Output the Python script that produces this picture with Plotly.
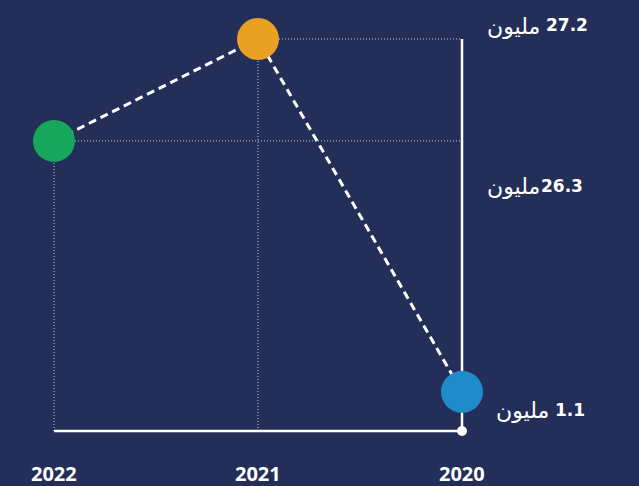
import plotly.graph_objects as go

# Data
years = [2022, 2021, 2020]
values = ["26.3", "27.2", "1.1"]          # million
unit = "مليون"
# Drawn heights of the points (0 = baseline, 100 = top of axis)
levels = [74, 100, 10]
colors = ["#16a65c", "#e9a124", "#1f8bcb"]

BG = "#232f59"
DOT = "rgba(220,224,236,0.85)"

fig = go.Figure()

x0 = years[-1]  # the right-hand axis year
top = max(levels)

# dotted guides: vertical from each point to baseline, horizontal to right axis
for yr, lv in zip(years, levels):
    fig.add_trace(go.Scatter(x=[yr, yr], y=[0, lv], mode="lines",
                             line=dict(color=DOT, width=1, dash="1px,2px"),
                             hoverinfo="skip", showlegend=False))
    if yr != x0:
        fig.add_trace(go.Scatter(x=[yr, x0], y=[lv, lv], mode="lines",
                                 line=dict(color=DOT, width=1, dash="1px,2px"),
                                 hoverinfo="skip", showlegend=False))

# solid axes: right vertical and baseline
fig.add_trace(go.Scatter(x=[x0, x0], y=[0, top], mode="lines",
                         line=dict(color="white", width=2.5),
                         hoverinfo="skip", showlegend=False))
fig.add_trace(go.Scatter(x=[years[0], x0], y=[0, 0], mode="lines",
                         line=dict(color="white", width=2.5),
                         hoverinfo="skip", showlegend=False))
fig.add_trace(go.Scatter(x=[x0], y=[0], mode="markers",
                         marker=dict(color="white", size=10),
                         hoverinfo="skip", showlegend=False))

# dashed connecting line
fig.add_trace(go.Scatter(x=years, y=levels, mode="lines",
                         line=dict(color="white", width=3, dash="8px,5px"),
                         hoverinfo="skip", showlegend=False))

# points
fig.add_trace(go.Scatter(x=years, y=levels, mode="markers",
                         marker=dict(color=colors, size=42, line=dict(width=0)),
                         hoverinfo="skip", showlegend=False))

# value labels on the right: number (bold) with the Arabic unit to its left
NUM_FS = 17
def num_width(s):
    return sum((0.38 if c == "." else 0.696) * NUM_FS for c in s)

label_right = {"27.2": 128, "26.3": 123, "1.1": 125}   # px right of the axis line
label_shift = {"27.2": 14, "26.3": -45, "1.1": -18}
label_gap = {"27.2": 6, "26.3": 1, "1.1": 6}
for v, lv in zip(values, levels):
    fig.add_annotation(x=x0, y=lv, xref="x", yref="y", text=f"<b>{v}</b>",
                       showarrow=False, xanchor="right", yanchor="middle",
                       xshift=label_right[v], yshift=label_shift[v],
                       font=dict(family="DejaVu Sans", size=NUM_FS, color="white"))
    fig.add_annotation(x=x0, y=lv, xref="x", yref="y", text=unit,
                       showarrow=False, xanchor="right", yanchor="middle",
                       xshift=label_right[v] - num_width(v) - label_gap[v],
                       yshift=label_shift[v] - 1,
                       font=dict(family="DejaVu Sans", size=22, color="white"))

# year labels
for yr in years:
    fig.add_annotation(x=yr, y=0, xref="x", yref="y", text=f"<b>{yr}</b>",
                       showarrow=False, xanchor="center", yanchor="middle",
                       yshift=-42,
                       font=dict(family="Open Sans", size=20, color="white"))

fig.update_layout(
    width=639, height=486,
    margin=dict(l=0, r=0, t=0, b=0),
    paper_bgcolor=BG, plot_bgcolor=BG,
    xaxis=dict(range=[2022.2647, 2019.1324], visible=False, fixedrange=True),
    yaxis=dict(range=[-14.03, 109.95], visible=False, fixedrange=True),
)

fig.write_html("out.html", config={"displayModeBar": False},
               post_script="document.body.style.margin='0';document.body.style.background='" + BG + "';")
